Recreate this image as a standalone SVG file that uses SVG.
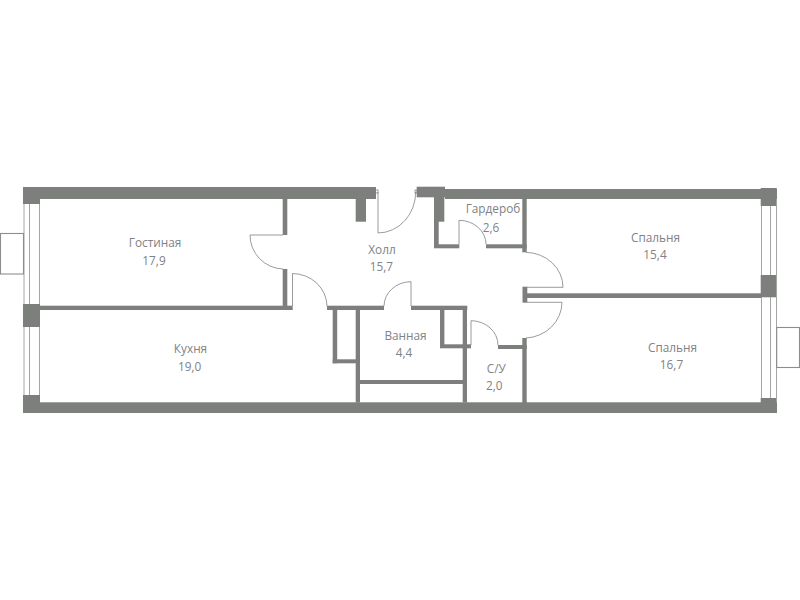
<svg xmlns="http://www.w3.org/2000/svg" width="800" height="600" viewBox="0 0 800 600">
<style>
.w{fill:#7d7f7d;stroke:none}
.d{fill:none;stroke:#808285;stroke-width:.8}
.l{fill:none;stroke:#8c8e8c;stroke-width:1.1}
.g{fill:none;stroke:#a4a6a4;stroke-width:1}
text{font-family:"Open Sans","Noto Sans",sans-serif;font-size:11.8px;fill:#808285;text-anchor:middle}
</style>
<rect width="800" height="600" fill="#fff"/>
<g id="walls">
<rect class="w" x="23" y="187" width="353" height="12"/>
<rect class="w" x="23" y="187" width="17" height="17"/>
<rect class="w" x="23" y="304" width="17" height="23"/>
<rect class="w" x="23" y="395" width="17" height="18"/>
<rect class="w" x="23" y="402.300" width="754" height="10.700"/>
<rect class="w" x="40" y="305.700" width="252.700" height="4.300"/>
<rect class="w" x="282.700" y="199" width="4.600" height="36"/>
<rect class="w" x="282.700" y="269" width="4.600" height="37"/>
<rect class="w" x="355.700" y="199" width="10.300" height="22.700"/>
<rect class="w" x="327" y="305.700" width="57" height="4.300"/>
<rect class="w" x="411" y="305.700" width="56.300" height="4.300"/>
<rect class="w" x="332.700" y="310" width="4.500" height="53.300"/>
<rect class="w" x="332.700" y="359.300" width="27" height="4"/>
<rect class="w" x="355.700" y="310" width="4.300" height="92.500"/>
<rect class="w" x="360" y="380" width="103" height="4"/>
<rect class="w" x="462.700" y="310" width="4.300" height="92.500"/>
<rect class="w" x="440" y="310" width="4.400" height="38"/>
<rect class="w" x="440" y="344.300" width="31" height="4"/>
<rect class="w" x="498" y="345" width="28.700" height="4"/>
<rect class="w" x="522.300" y="338" width="4.400" height="65"/>
<rect class="w" x="416.700" y="186.700" width="28.300" height="10.600"/>
<rect class="w" x="445" y="189" width="332" height="10"/>
<rect class="w" x="434" y="197" width="10.300" height="24.700"/>
<rect class="w" x="434" y="221" width="4.700" height="27"/>
<rect class="w" x="434" y="244.300" width="25.300" height="4"/>
<rect class="w" x="486" y="244.300" width="40.700" height="4"/>
<rect class="w" x="522.300" y="198" width="4.400" height="54.300"/>
<rect class="w" x="522.500" y="286.700" width="4.800" height="16"/>
<rect class="w" x="527" y="293.300" width="235" height="4.700"/>
<rect class="w" x="760.700" y="188" width="16" height="18"/>
<rect class="w" x="760.700" y="275" width="16" height="22.300"/>
<rect class="w" x="760.700" y="398" width="16" height="15"/>
</g>
<g id="windows">
<path class="g" d="M24 204V304M29.500 204V304M39.500 204V304M24 327V395M29.500 327V395M39.500 327V395"/>
<path class="g" d="M761.500 206V275M770.500 206V275M776.500 206V275M761.500 297V398M770.500 297V398M776.500 297V398"/>
</g>
<g id="balconies">
<rect class="l" x="0.500" y="233.500" width="23" height="40.500"/>
<rect class="l" x="776.700" y="327.500" width="22.800" height="40"/>
</g>
<g id="doors">
<path class="d" d="M283 235H250A34 34 0 0 0 283 269"/>
<path class="d" d="M292.500 306V273.500A35 33 0 0 1 327 306"/>
<path class="d" d="M384 306A27 24.500 0 0 1 411 281.700V306"/>
<path class="d" d="M378 192V233A38 41 0 0 0 415.700 192"/>
<rect class="d" x="375.500" y="190" width="2.500" height="3"/>
<rect class="d" x="415" y="190" width="2" height="3"/>
<path class="d" d="M459 244.300V220.300A27 24 0 0 1 486 244.300"/>
<path class="d" d="M526 252.300A38 35 0 0 1 563 287.300H527"/>
<path class="d" d="M527 302.300H562A38 36 0 0 1 526 338"/>
<path class="d" d="M471 345V320.700A27 24.500 0 0 1 498 345"/>
</g>
<g id="labels">
<text x="155" y="246.500">Гостиная</text><text x="154" y="264.500">17,9</text>
<text x="190.500" y="353">Кухня</text><text x="189.700" y="371">19,0</text>
<text x="382" y="253.500">Холл</text><text x="381.300" y="271">15,7</text>
<text x="405.500" y="340">Ванная</text><text x="404" y="357">4,4</text>
<text x="493" y="213">Гардероб</text><text x="491" y="231.500">2,6</text>
<text x="655.500" y="242">Спальня</text><text x="655" y="259">15,4</text>
<text x="672.500" y="351.500">Спальня</text><text x="671.500" y="369">16,7</text>
<text x="496.300" y="373">С/У</text><text x="494.300" y="389.500">2,0</text>
</g>
</svg>
